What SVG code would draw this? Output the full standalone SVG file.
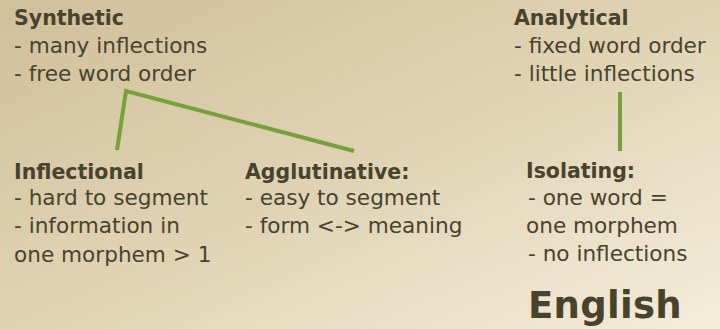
<svg xmlns="http://www.w3.org/2000/svg" width="720" height="329" viewBox="0 0 720 329">
<defs>
<linearGradient id="bg" x1="0" y1="0" x2="1" y2="1">
<stop offset="0" stop-color="#d0bf9b"/>
<stop offset="0.5" stop-color="#e0d3b4"/>
<stop offset="1" stop-color="#f5eddb"/>
</linearGradient>
<style>
text{font-family:"DejaVu Sans","Verdana",sans-serif;fill:#48432c;font-size:21.6px}
.t{font-weight:bold;font-size:20.5px}
.big{font-weight:bold;font-size:37px;letter-spacing:0.3px}
.c{stroke:#77a03a;stroke-width:4;fill:none;stroke-linejoin:miter;stroke-linecap:butt}
</style>
</defs>
<rect width="720" height="329" fill="url(#bg)"/>
<g id="connectors">
<polyline class="c" points="117,150 126,91 354,151"/>
<line class="c" x1="620" y1="92" x2="620" y2="151"/>
</g>
<g id="synthetic">
<text x="14" y="25" class="t">Synthetic</text>
<text x="14" y="53">- many inflections</text>
<text x="14" y="81">- free word order</text>
</g>
<g id="analytical">
<text x="514" y="25" class="t">Analytical</text>
<text x="514" y="53">- fixed word order</text>
<text x="514" y="81">- little inflections</text>
</g>
<g id="inflectional">
<text x="14" y="179" class="t">Inflectional</text>
<text x="14" y="205">- hard to segment</text>
<text x="14" y="233">- information in</text>
<text x="14" y="262">one morphem &gt; 1</text>
</g>
<g id="agglutinative">
<text x="245" y="179" class="t">Agglutinative:</text>
<text x="245" y="205">- easy to segment</text>
<text x="245" y="233">- form &lt;-&gt; meaning</text>
</g>
<g id="isolating">
<text x="526" y="178" class="t">Isolating:</text>
<text x="528" y="205">- one word =</text>
<text x="526" y="233">one morphem</text>
<text x="528" y="261">- no inflections</text>
</g>
<g id="english">
<text x="528" y="318" class="big">English</text>
</g>
</svg>
